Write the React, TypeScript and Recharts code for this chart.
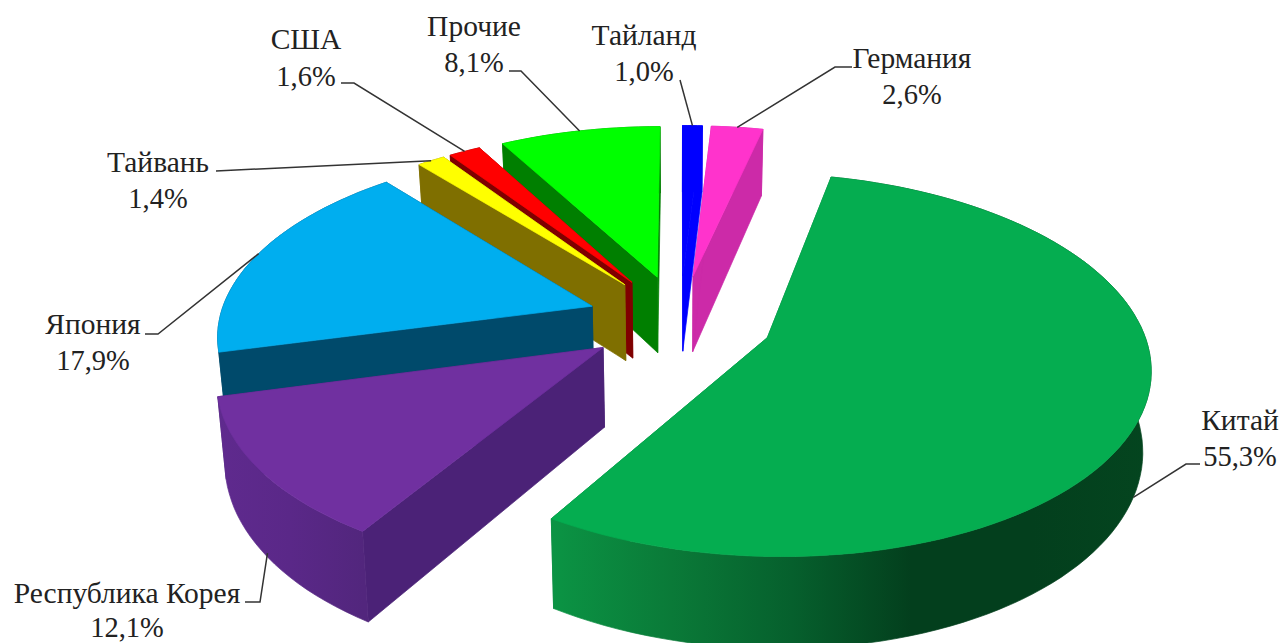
import { PieChart, Pie } from 'recharts';

// counter-clockwise from the top, so that nearer slices paint over farther ones
const categories = ['Прочие', 'США', 'Тайвань', 'Япония', 'Республика Корея', 'Китай', 'Германия', 'Тайланд'];
const shares = [8.1, 1.6, 1.4, 17.9, 12.1, 55.3, 2.6, 1.0];
const shareLabels = ['8,1%', '1,6%', '1,4%', '17,9%', '12,1%', '55,3%', '2,6%', '1,0%'];

const topColors = ['#00ff00', '#ff0000', '#ffff00', '#00aeef', '#7030a0', '#05ad50', '#ff33cc', '#0000ff'];
const edgeColors = ['#007f00', '#7f0000', '#7f6f00', '#004a6b', '#4b2277', '#007a38', '#cc2aa8', '#0000ff'];
const arcStops = [
  ['#007f00', '#007f00'],
  ['#7f0000', '#7f0000'],
  ['#7f6f00', '#7f6f00'],
  ['#004a6b', '#004a6b'],
  ['#5f2a8e', '#5a2888', '#52267d'],
  ['#0b9444', '#0a7a38', '#06602d', '#033f1d', '#033f1d', '#04451f'],
  ['#cc2aa8', '#cc2aa8'],
  ['#0000ff', '#0000ff'],
];

// text centre, baselines and the elbow of every leader line
const labelLayout = [
  { x: 474, nameY: 36, valueY: 72, elbow: [521, 71], tail: [509, 71], wall: 0 },
  { x: 306, nameY: 49, valueY: 86, elbow: [354, 83], tail: [341, 83], wall: 0 },
  { x: 158, nameY: 172, valueY: 208, elbow: [216, 171], tail: [216, 171], wall: 0 },
  { x: 93, nameY: 334, valueY: 370, elbow: [158, 334], tail: [145, 334], wall: 0 },
  { x: 127, nameY: 603, valueY: 637, elbow: [260, 602], tail: [245, 602], wall: 0.95 },
  { x: 1240, nameY: 430, valueY: 466, elbow: [1186, 464], tail: [1200, 464], wall: 1 },
  { x: 912, nameY: 68, valueY: 104, elbow: [835, 67], tail: [852, 67], wall: 0 },
  { x: 644, nameY: 45, valueY: 81, elbow: [680, 80], tail: [680, 80], wall: 0 },
];

const chartData = categories.map((name, i) => ({ name, value: shares[i] }));

const EXPLODE = 0.25;
const SQUASH = 0.49;
const PERSPECTIVE = 0.14;
const CONVERGE = 0.018;
const DEPTH = 78;

// puts a polar point of one exploded slice on the screen; height 0 is the top face
function project(props: any, deg: number, r: number, height = 0) {
  const { cx, cy, outerRadius: R, midAngle } = props;
  const mid = ((90 - midAngle) * Math.PI) / 180;
  const t = ((90 - deg) * Math.PI) / 180;
  const u = EXPLODE * Math.sin(mid) + r * Math.sin(t);
  const v = EXPLODE * Math.cos(mid) + r * Math.cos(t);
  const s = 1 / (1 + PERSPECTIVE * v);
  const x = cx + R * u * s;
  return {
    x: x + (cx - x) * CONVERGE * height,
    y: cy - R * SQUASH * v * s + DEPTH * height * s,
  };
}

const toPath = (pts: { x: number; y: number }[]) =>
  pts.map((p, i) => `${i ? 'L' : 'M'}${p.x.toFixed(1)},${p.y.toFixed(1)}`).join(' ') + ' Z';

function Slice3D(props: any) {
  const { index, startAngle, endAngle } = props;
  const steps = Math.max(4, Math.ceil(Math.abs(endAngle - startAngle) / 2));
  const angles = Array.from({ length: steps + 1 }, (_, i) => startAngle + ((endAngle - startAngle) * i) / steps);
  const rim = angles.map((a) => project(props, a, 1));
  const rimLow = angles.map((a) => project(props, a, 1, 1));
  const apex = project(props, startAngle, 0);
  const apexLow = project(props, startAngle, 0, 1);
  const xs = rim.map((p) => p.x);
  const gradId = `arc-${index}`;
  const stops = arcStops[index];
  const edge = edgeColors[index];
  const top = topColors[index];
  return (
    <g strokeWidth={0.7} strokeLinejoin="round">
      <defs>
        <linearGradient id={gradId} gradientUnits="userSpaceOnUse" x1={Math.min(...xs)} y1="0" x2={Math.max(...xs)} y2="0">
          {stops.map((c, i) => (
            <stop key={i} offset={i / (stops.length - 1)} stopColor={c} />
          ))}
        </linearGradient>
      </defs>
      <path d={toPath([apex, rim[0], rimLow[0], apexLow])} fill={edge} stroke={edge} />
      <path d={toPath([apex, rim[steps], rimLow[steps], apexLow])} fill={edge} stroke={edge} />
      <path d={toPath([...rim, ...rimLow.slice().reverse()])} fill={`url(#${gradId})`} stroke={`url(#${gradId})`} />
      <path d={toPath([apex, ...rim])} fill={top} stroke={top} />
    </g>
  );
}

function SliceLabel(props: any) {
  const { index } = props;
  const l = labelLayout[index];
  const end = project(props, props.midAngle, 1, l.wall);
  return (
    <g>
      <polyline
        points={`${end.x},${end.y} ${l.elbow[0]},${l.elbow[1]} ${l.tail[0]},${l.tail[1]}`}
        fill="none"
        stroke="#333333"
        strokeWidth={1.5}
      />
      <text x={l.x} y={l.nameY} textAnchor="middle" fontFamily="Liberation Serif" fontSize={29.5} fill="#222222">
        {categories[index]}
      </text>
      <text x={l.x} y={l.valueY} textAnchor="middle" fontFamily="Liberation Serif" fontSize={28.5} fill="#222222">
        {shareLabels[index]}
      </text>
    </g>
  );
}

export default function App() {
  return (
    <div style={{ position: 'absolute', left: 0, top: 0, width: 1283, height: 643, overflow: 'hidden', background: '#fff' }}>
      <PieChart width={1283} height={643} margin={{ top: 0, right: 0, bottom: 0, left: 0 }}>
        <Pie
          data={chartData}
          dataKey="value"
          nameKey="name"
          cx={680}
          cy={320}
          innerRadius={0}
          outerRadius={373}
          startAngle={90}
          endAngle={450}
          stroke="none"
          shape={Slice3D}
          label={SliceLabel}
          labelLine={false}
          isAnimationActive={false}
        />
      </PieChart>
    </div>
  );
}
